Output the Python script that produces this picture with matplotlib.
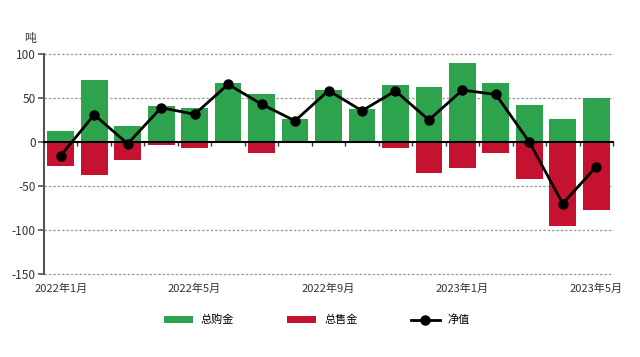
#!/usr/bin/env python3

import numpy as np
import matplotlib
matplotlib.use("Agg")
import matplotlib.pyplot as plt
from matplotlib.lines import Line2D
from matplotlib.patches import Patch
import matplotlib.transforms as mtransforms

plt.rcParams["font.family"] = ["Noto Sans CJK SC", "DejaVu Sans"]

# ---------------------------
# DATA
# ---------------------------

months = ["2022年1月", "2022年2月", "2022年3月", "2022年4月", "2022年5月",
          "2022年6月", "2022年7月", "2022年8月", "2022年9月", "2022年10月",
          "2022年11月", "2022年12月", "2023年1月", "2023年2月", "2023年3月",
          "2023年4月", "2023年5月"]

buy = [12.5, 70, 18.5, 41, 38.6, 67.4, 54, 25.8, 59, 37,
       64.8, 62, 89.4, 67.4, 42, 26.5, 50]
sell = [-27.4, -38, -20, -3, -6.7, -1.5, -12.3, -1, -1, -1,
        -7, -35, -30, -13, -42, -96, -77.6]
net = [-15.5, 31, -2, 39, 31.5, 65.5, 43, 24, 58.5, 35.5,
       58, 25, 59, 54, 0, -70, -28]

label_every = 4
green = "#2ca34c"
red = "#c41230"

# ---------------------------
# PLOT
# ---------------------------

fig = plt.figure(figsize=(6.4, 3.57), dpi=100)
ax = fig.add_axes([44 / 640, 1 - 274 / 357, 569 / 640, 220 / 357])

x = np.arange(len(months))
ax.bar(x, buy, width=0.8, color=green, zorder=2)
ax.bar(x, sell, width=0.8, color=red, zorder=2)
ax.plot(x, net, color="black", linewidth=2, marker="o", markersize=6.5, zorder=4)

ax.set_xlim(-0.5, len(months) - 0.5)
ax.set_ylim(-150, 100)
ax.set_yticks([-150, -100, -50, 0, 50, 100])
ax.set_yticklabels(["-150", "-100", "-50", "0", "50", "100"], fontsize=8.5, color="#333333")

for v in [-150, -100, -50, 50, 100]:
    ax.axhline(v, color="#9a9a9a", linewidth=0.9, linestyle=(0, (2, 1.5)),
               zorder=1, clip_on=False)

for s in ["top", "right"]:
    ax.spines[s].set_visible(False)
ax.spines["left"].set_color("#555555")
ax.spines["left"].set_linewidth(1.5)
ax.spines["left"].set_zorder(3)
ax.spines["bottom"].set_position(("data", 0))
ax.spines["bottom"].set_color("black")
ax.spines["bottom"].set_linewidth(1.5)
ax.spines["bottom"].set_zorder(3)

ax.set_xticks(np.arange(len(months) + 1) - 0.5)
ax.set_xticklabels([])
ax.tick_params(axis="x", direction="out", length=3, width=1, color="#333333")
ax.tick_params(axis="y", direction="out", length=4, width=1.2, color="#555555", pad=2)

trans = mtransforms.blended_transform_factory(ax.transData, ax.transAxes)
for i in range(0, len(months), label_every):
    ax.text(i, -0.045, months[i], transform=trans, ha="center", va="top",
            fontsize=8, color="#333333")

ax.text(-0.025, 1.04, "吨", transform=ax.transAxes, ha="center", va="bottom",
        fontsize=8.5, color="#333333")

handles = [
    Patch(facecolor=green, label="总购金"),
    Patch(facecolor=red, label="总售金"),
    Line2D([0], [0], color="black", linewidth=2, marker="o", markersize=6.5, label="净值"),
]
fig.legend(handles=handles, loc="center", bbox_to_anchor=(0.495, 0.104), ncol=3,
           frameon=False, fontsize=8, columnspacing=4.8, handlelength=2.6,
           handleheight=0.55, handletextpad=0.7)

fig.savefig("out.png", dpi=100)
